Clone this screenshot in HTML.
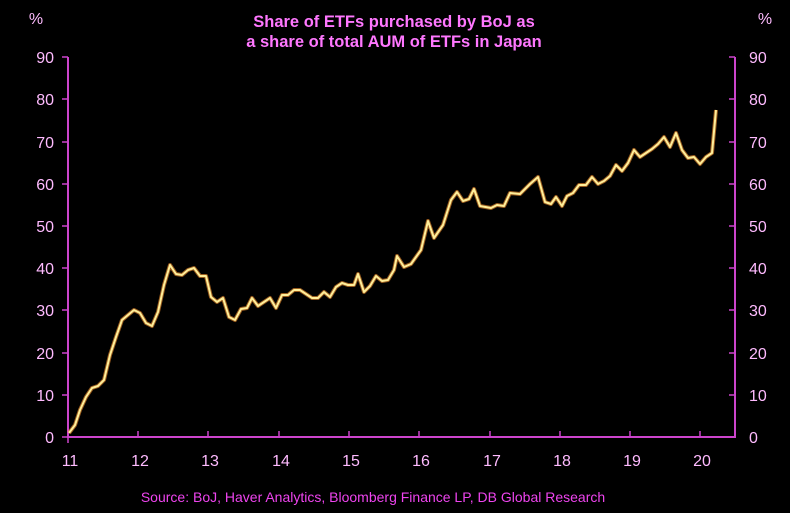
<!DOCTYPE html>
<html><head><meta charset="utf-8"><style>
html,body{margin:0;padding:0;background:#000;}
svg{display:block;}
text{font-family:"Liberation Sans",sans-serif;fill:#ffbbff;}
</style></head><body>
<svg width="790" height="513" viewBox="0 0 790 513">
<rect width="790" height="513" fill="#000"/>
<text x="394" y="27" text-anchor="middle" font-size="16.5" font-weight="bold" style="fill:#ff77ff">Share of ETFs purchased by BoJ as</text>
<text x="394" y="47" text-anchor="middle" font-size="16.5" font-weight="bold" style="fill:#ff77ff">a share of total AUM of ETFs in Japan</text>
<text x="36" y="24" text-anchor="middle" font-size="16">%</text>
<text x="765" y="24" text-anchor="middle" font-size="16">%</text>
<g stroke="#cc44cc" stroke-width="2" fill="none">
<line x1="68" y1="57" x2="68" y2="438"/>
<line x1="735" y1="57" x2="735" y2="438"/>
<line x1="67" y1="437" x2="736" y2="437"/>
</g>
<g stroke="#cc44cc" stroke-width="1.5">
<line x1="62" y1="437" x2="68" y2="437"/><line x1="62" y1="395" x2="68" y2="395"/><line x1="62" y1="353" x2="68" y2="353"/><line x1="62" y1="310" x2="68" y2="310"/><line x1="62" y1="268" x2="68" y2="268"/><line x1="62" y1="226" x2="68" y2="226"/><line x1="62" y1="184" x2="68" y2="184"/><line x1="62" y1="142" x2="68" y2="142"/><line x1="62" y1="99" x2="68" y2="99"/><line x1="62" y1="57" x2="68" y2="57"/>
<line x1="729" y1="437" x2="735" y2="437"/><line x1="729" y1="395" x2="735" y2="395"/><line x1="729" y1="353" x2="735" y2="353"/><line x1="729" y1="310" x2="735" y2="310"/><line x1="729" y1="268" x2="735" y2="268"/><line x1="729" y1="226" x2="735" y2="226"/><line x1="729" y1="184" x2="735" y2="184"/><line x1="729" y1="142" x2="735" y2="142"/><line x1="729" y1="99" x2="735" y2="99"/><line x1="729" y1="57" x2="735" y2="57"/>
<line x1="68" y1="437" x2="68" y2="443"/><line x1="138" y1="431" x2="138" y2="437"/><line x1="208" y1="431" x2="208" y2="437"/><line x1="279" y1="431" x2="279" y2="437"/><line x1="349" y1="431" x2="349" y2="437"/><line x1="419" y1="431" x2="419" y2="437"/><line x1="490" y1="431" x2="490" y2="437"/><line x1="560" y1="431" x2="560" y2="437"/><line x1="630" y1="431" x2="630" y2="437"/><line x1="700" y1="431" x2="700" y2="437"/>
</g>
<g font-size="16" text-anchor="end">
<text x="54" y="443">0</text><text x="54" y="401">10</text><text x="54" y="359">20</text><text x="54" y="316">30</text><text x="54" y="274">40</text><text x="54" y="232">50</text><text x="54" y="190">60</text><text x="54" y="148">70</text><text x="54" y="105">80</text><text x="54" y="63">90</text>
</g>
<g font-size="16" text-anchor="start">
<text x="749" y="443">0</text><text x="749" y="401">10</text><text x="749" y="359">20</text><text x="749" y="316">30</text><text x="749" y="274">40</text><text x="749" y="232">50</text><text x="749" y="190">60</text><text x="749" y="148">70</text><text x="749" y="105">80</text><text x="749" y="63">90</text>
</g>
<g font-size="16" text-anchor="middle">
<text x="70" y="466">11</text><text x="140" y="466">12</text><text x="210" y="466">13</text><text x="281" y="466">14</text><text x="351" y="466">15</text><text x="421" y="466">16</text><text x="492" y="466">17</text><text x="562" y="466">18</text><text x="632" y="466">19</text><text x="702" y="466">20</text>
</g>
<polyline fill="none" stroke="#ff9933" stroke-opacity="0.6" stroke-width="4" stroke-linejoin="round" points="69,433 75,425 80,410 86,397 92,388 98,386 104,380 110,355 116,337 122,320 128,315 134,310 140,313 146,323 152,326 158,312 164,285 170,265 176,274 182,275 188,270 194,268 200,276 206,276 211,297 217,302 223,298 229,317 235,320 241,309 247,308 252,298 258,306 264,302 270,298 276,308 282,295 288,295 294,290 300,290 306,294 312,298 318,298 324,292 330,297 336,287 342,283 348,285 354,285 358,274 364,292 370,286 376,276 382,281 388,280 394,270 397,256 404,267 411,264 421,250 428,221 434,238 443,225 451,200 457,192 463,201 469,199 474,189 480,206 491,208 497,205 504,206 510,193 520,194 530,184 538,177 545,202 551,204 556,197 562,206 567,196 573,193 579,185 586,185 592,177 598,184 604,181 610,176 616,165 622,171 628,163 634,150 640,157 646,153 652,149 658,144 664,137 670,147 676,133 682,150 688,158 694,157 700,164 706,157 712,153 716,110"/>
<polyline fill="none" stroke="#ffee99" stroke-width="2" stroke-linejoin="round" points="69,433 75,425 80,410 86,397 92,388 98,386 104,380 110,355 116,337 122,320 128,315 134,310 140,313 146,323 152,326 158,312 164,285 170,265 176,274 182,275 188,270 194,268 200,276 206,276 211,297 217,302 223,298 229,317 235,320 241,309 247,308 252,298 258,306 264,302 270,298 276,308 282,295 288,295 294,290 300,290 306,294 312,298 318,298 324,292 330,297 336,287 342,283 348,285 354,285 358,274 364,292 370,286 376,276 382,281 388,280 394,270 397,256 404,267 411,264 421,250 428,221 434,238 443,225 451,200 457,192 463,201 469,199 474,189 480,206 491,208 497,205 504,206 510,193 520,194 530,184 538,177 545,202 551,204 556,197 562,206 567,196 573,193 579,185 586,185 592,177 598,184 604,181 610,176 616,165 622,171 628,163 634,150 640,157 646,153 652,149 658,144 664,137 670,147 676,133 682,150 688,158 694,157 700,164 706,157 712,153 716,110"/>
<text x="373" y="502" text-anchor="middle" font-size="14" style="fill:#ee44ee">Source: BoJ, Haver Analytics, Bloomberg Finance LP, DB Global Research</text>
</svg>
</body></html>
